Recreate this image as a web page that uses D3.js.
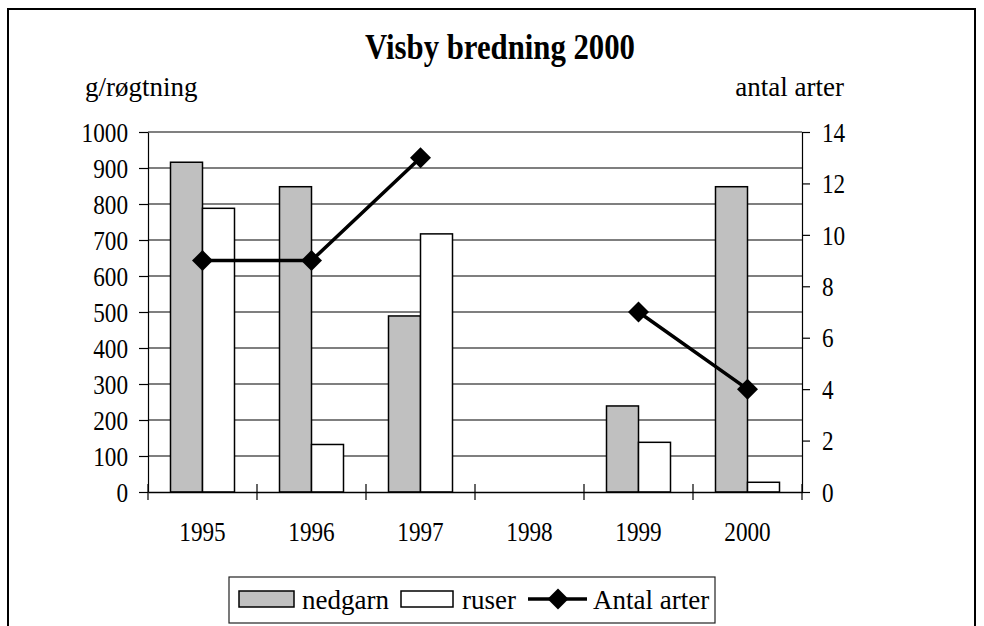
<!DOCTYPE html>
<html>
<head>
<meta charset="utf-8">
<script src="https://cdn.jsdelivr.net/npm/d3@7"></script>
<style>
  html, body { margin: 0; padding: 0; background: #fff; }
  svg { display: block; }
</style>
</head>
<body>
<svg id="chart" width="984" height="626"></svg>
<script>
const title = "Visby bredning 2000";
const leftTitle = "g/røgtning";
const rightTitle = "antal arter";
const years = ["1995", "1996", "1997", "1998", "1999", "2000"];
const nedgarn = [916, 848, 489, null, 239, 848];
const ruser = [788, 132, 717, null, 138, 27];
const antalArter = [9, 9, 13, null, 7, 4];
const leftTicks = [0, 100, 200, 300, 400, 500, 600, 700, 800, 900, 1000];
const rightTicks = [0, 2, 4, 6, 8, 10, 12, 14];
const seriesNames = ["nedgarn", "ruser", "Antal arter"];

const svg = d3.select("#chart");
const L = 148, R = 802, T = 132, B = 492;
const FS = 27, SX = 0.86;
const SERIF = "Liberation Serif";

const x = d3.scaleBand().domain(years).range([L, R]).paddingInner(0).paddingOuter(0);
const y = d3.scaleLinear().domain([0, 1000]).range([B, T]);
const y2 = d3.scaleLinear().domain([0, 14]).range([B, T]);
const barW = 32;

// outer border
svg.append("rect").attr("x", 8).attr("y", 9).attr("width", 967).attr("height", 700)
  .attr("fill", "none").attr("stroke", "#000").attr("stroke-width", 2);

// title
svg.append("text").attr("x", 365).attr("y", 59).attr("font-family", SERIF)
  .attr("font-size", 36).attr("font-weight", "bold")
  .attr("textLength", 270).attr("lengthAdjust", "spacingAndGlyphs").text(title);

// axis titles
svg.append("text").attr("x", 85).attr("y", 96).attr("font-family", SERIF).attr("font-size", FS).text(leftTitle);
svg.append("text").attr("x", 844).attr("y", 96).attr("font-family", SERIF).attr("font-size", FS)
  .attr("text-anchor", "end").text(rightTitle);

// gridlines
svg.append("g").selectAll("line").data(leftTicks.filter(d => d > 0 && d < 1000)).join("line")
  .attr("x1", L).attr("x2", R).attr("y1", d => y(d)).attr("y2", d => y(d))
  .attr("stroke", "#000").attr("stroke-width", 1.2);
// top plot border
svg.append("line").attr("x1", L).attr("x2", R).attr("y1", y(1000)).attr("y2", y(1000))
  .attr("stroke", "#808080").attr("stroke-width", 2);

// bars
const bars = svg.append("g");
bars.selectAll("rect.n").data(years.map((yr, i) => ({ yr, v: nedgarn[i] })).filter(d => d.v != null)).join("rect")
  .attr("class", "n")
  .attr("x", d => x(d.yr) + x.bandwidth() / 2 - barW).attr("width", barW)
  .attr("y", d => y(d.v)).attr("height", d => y(0) - y(d.v))
  .attr("fill", "#c0c0c0").attr("stroke", "#000").attr("stroke-width", 1.5);
bars.selectAll("rect.r").data(years.map((yr, i) => ({ yr, v: ruser[i] })).filter(d => d.v != null)).join("rect")
  .attr("class", "r")
  .attr("x", d => x(d.yr) + x.bandwidth() / 2).attr("width", barW)
  .attr("y", d => y(d.v)).attr("height", d => y(0) - y(d.v))
  .attr("fill", "#fff").attr("stroke", "#000").attr("stroke-width", 1.5);

// left axis
const gl = svg.append("g").attr("transform", `translate(${L},0)`)
  .call(d3.axisLeft(y).tickValues(leftTicks).tickFormat(d3.format("d")).tickSize(9).tickSizeOuter(0));
gl.attr("font-family", SERIF);
gl.select(".domain").attr("stroke", "#000").attr("stroke-width", 1.2);
gl.selectAll(".tick line").attr("stroke", "#000").attr("stroke-width", 1.2);
gl.selectAll(".tick text").attr("font-family", SERIF).attr("font-size", FS)
  .attr("x", -20 / SX).attr("dy", "0.34em").attr("transform", `scale(${SX},1)`);

// right axis
const gr = svg.append("g").attr("transform", `translate(${R},0)`)
  .call(d3.axisRight(y2).tickValues(rightTicks).tickFormat(d3.format("d")).tickSize(8).tickSizeOuter(0));
gr.attr("font-family", SERIF);
gr.select(".domain").attr("stroke", "#000").attr("stroke-width", 1.2);
gr.selectAll(".tick line").attr("stroke", "#000").attr("stroke-width", 1.2);
gr.selectAll(".tick text").attr("font-family", SERIF).attr("font-size", FS)
  .attr("x", 20 / SX).attr("dy", "0.34em").attr("transform", `scale(${SX},1)`);

// bottom axis (labels at category centers)
const gb = svg.append("g").attr("transform", `translate(0,${B})`)
  .call(d3.axisBottom(x).tickSize(0).tickPadding(30));
gb.attr("font-family", SERIF);
gb.select(".domain").attr("stroke", "#000").attr("stroke-width", 1.4);
gb.selectAll(".tick text").attr("font-family", SERIF).attr("font-size", FS)
  .attr("transform", `scale(${SX},1)`).attr("dy", "0.71em");
// boundary ticks
const bounds = years.map(d => x(d)).concat([x(years[years.length - 1]) + x.step()]);
svg.append("g").selectAll("line").data(bounds).join("line")
  .attr("x1", d => d).attr("x2", d => d).attr("y1", B - 8).attr("y2", B + 8)
  .attr("stroke", "#000").attr("stroke-width", 1.2);

// line series
const pts = years.map((yr, i) => ({ yr, v: antalArter[i] }));
const line = d3.line().defined(d => d.v != null)
  .x(d => x(d.yr) + x.bandwidth() / 2).y(d => y2(d.v));
svg.append("path").datum(pts).attr("d", line).attr("fill", "none")
  .attr("stroke", "#000").attr("stroke-width", 3.5);
const diamond = d3.symbol().type(d3.symbolSquare).size(220);
svg.append("g").selectAll("path").data(pts.filter(d => d.v != null)).join("path")
  .attr("d", diamond)
  .attr("transform", d => `translate(${x(d.yr) + x.bandwidth() / 2},${y2(d.v)}) rotate(45)`)
  .attr("fill", "#000");

// legend
const lg = svg.append("g").attr("font-family", SERIF);
lg.append("rect").attr("x", 229).attr("y", 577).attr("width", 486).attr("height", 46)
  .attr("fill", "#fff").attr("stroke", "#222").attr("stroke-width", 1.2);
lg.append("rect").attr("x", 239).attr("y", 591).attr("width", 55).attr("height", 16)
  .attr("fill", "#c0c0c0").attr("stroke", "#000").attr("stroke-width", 1.5);
lg.append("text").attr("x", 302).attr("y", 609).attr("font-family", SERIF).attr("font-size", FS).text(seriesNames[0]);
lg.append("rect").attr("x", 401).attr("y", 591).attr("width", 52).attr("height", 16)
  .attr("fill", "#fff").attr("stroke", "#000").attr("stroke-width", 1.5);
lg.append("text").attr("x", 462).attr("y", 609).attr("font-family", SERIF).attr("font-size", FS).text(seriesNames[1]);
lg.append("line").attr("x1", 528).attr("x2", 587).attr("y1", 599).attr("y2", 599)
  .attr("stroke", "#000").attr("stroke-width", 3.5);
lg.append("path").attr("d", diamond).attr("transform", "translate(558,599) rotate(45)").attr("fill", "#000");
lg.append("text").attr("x", 593).attr("y", 609).attr("font-family", SERIF).attr("font-size", FS).text(seriesNames[2]);
</script>
</body>
</html>
